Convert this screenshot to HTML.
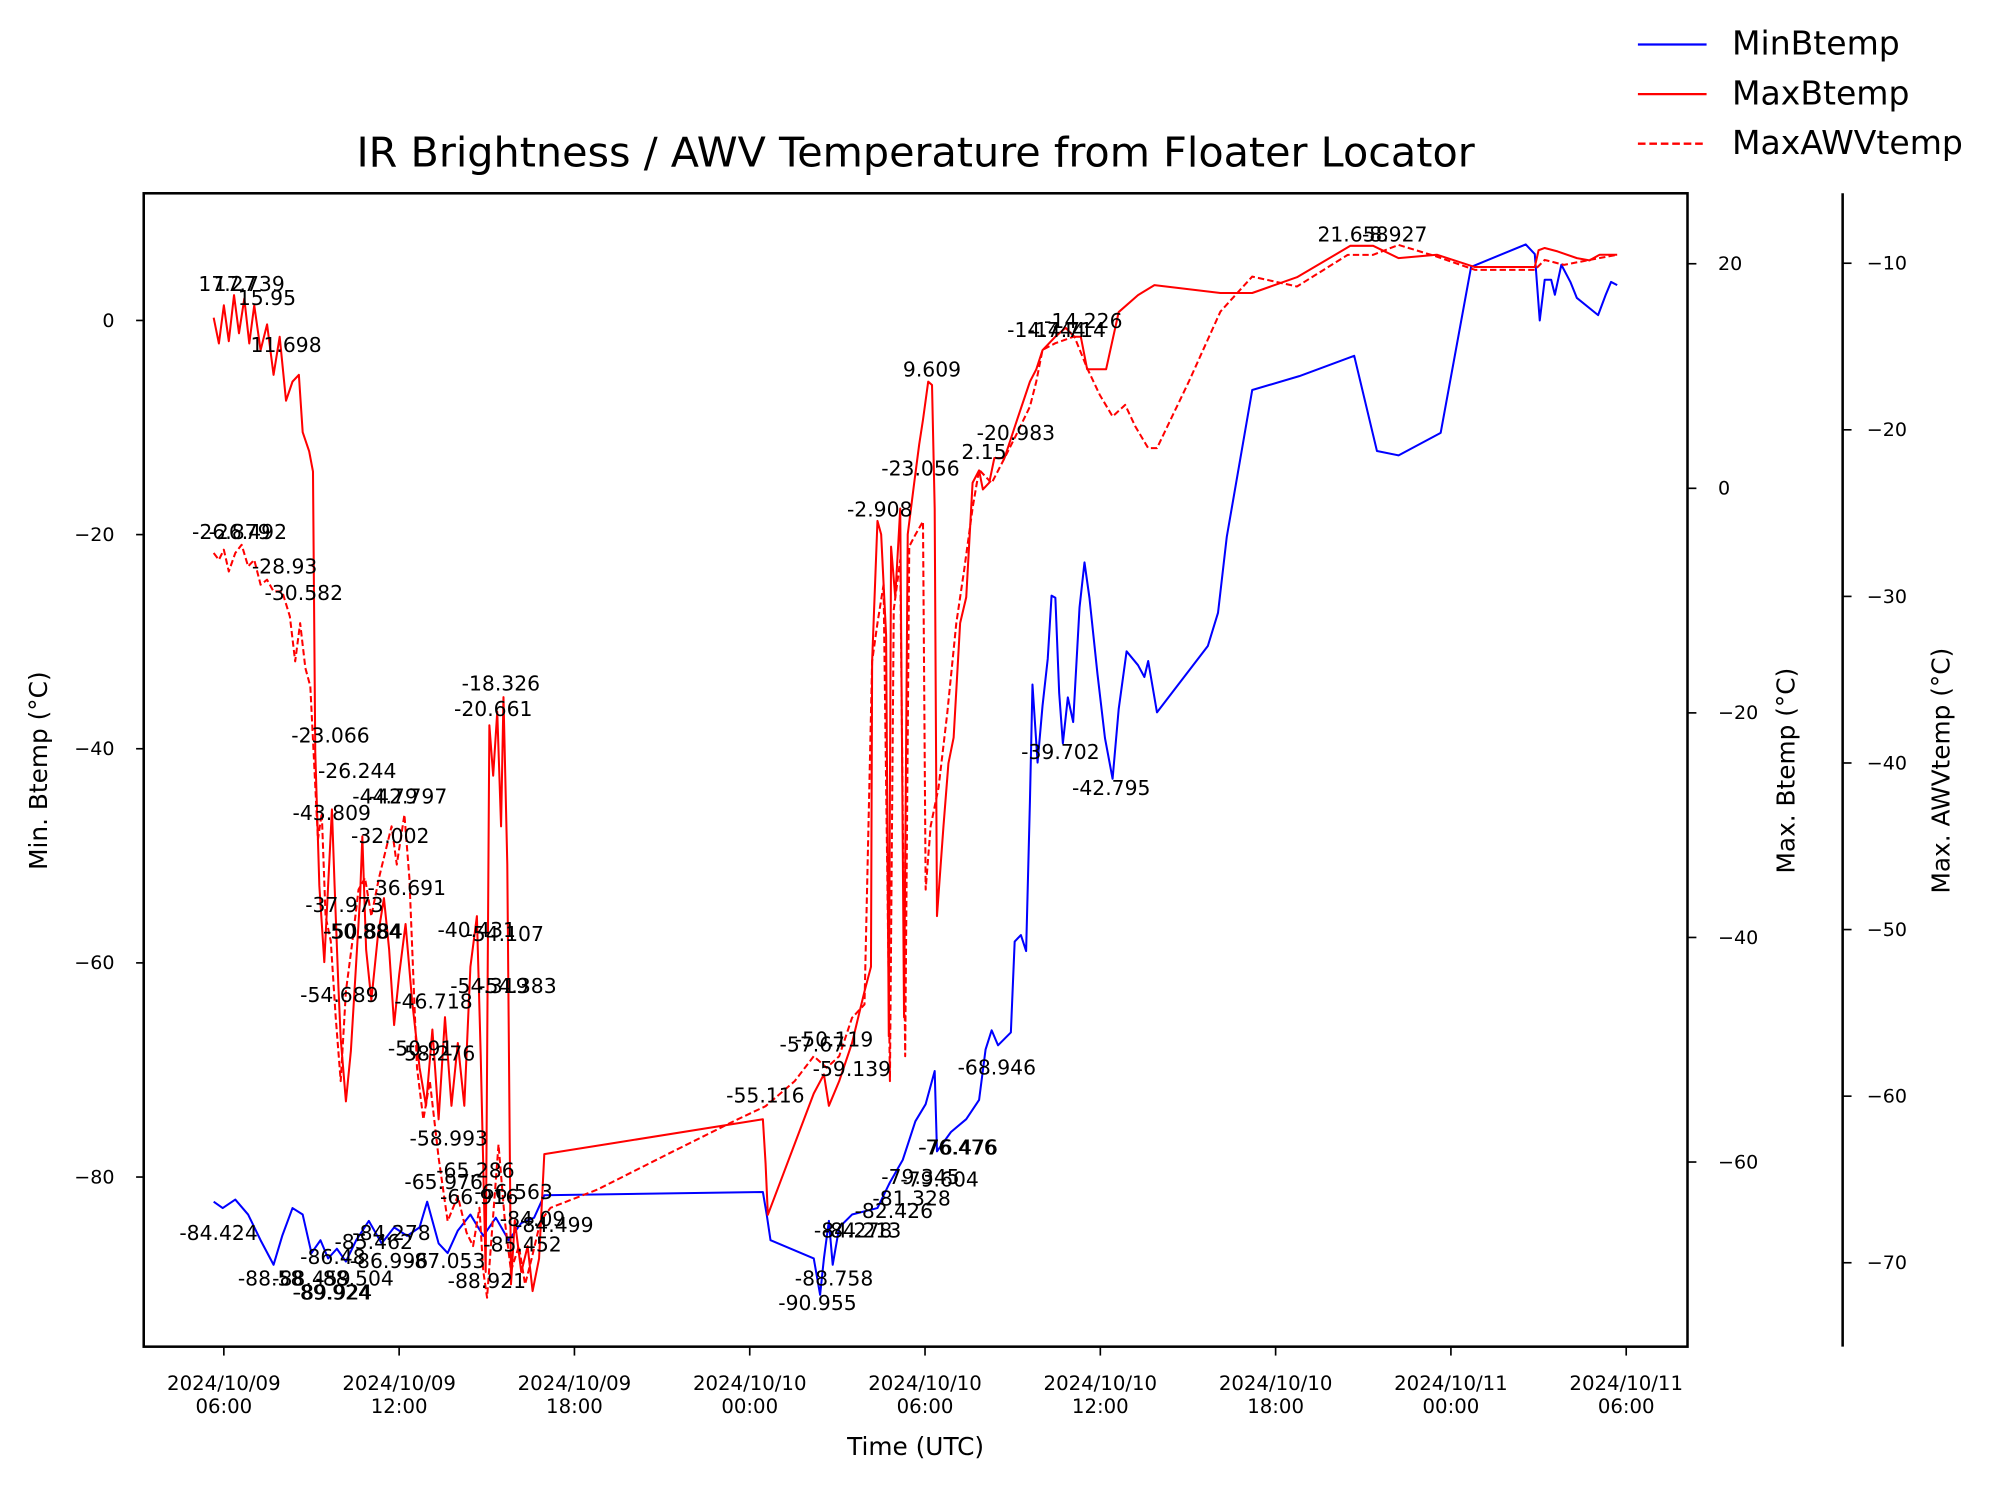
<!DOCTYPE html>
<html><head><meta charset="utf-8">
<style>
html,body{margin:0;padding:0;background:#fff;}
svg{display:block;font-family:"DejaVu Sans","Liberation Sans",sans-serif;}
</style></head>
<body>
<svg id="chart" width="1994" height="1491" viewBox="0 0 1568 1172.5" xmlns="http://www.w3.org/2000/svg">
<rect width="1568" height="1172.5" fill="#fff"/>
<text x="720" y="131" font-size="32.5" text-anchor="middle">IR Brightness / AWV Temperature from Floater Locator</text>
<g id="series"></g>
<g id="annots" font-size="16"></g>
<rect x="113" y="152" width="1214" height="907" fill="none" stroke="#000" stroke-width="2"/>
<line x1="1449" y1="152" x2="1449" y2="1059" stroke="#000" stroke-width="2"/>
<g id="axes" font-size="15"></g>
<text x="720" y="1144" font-size="19.5" text-anchor="middle">Time (UTC)</text>
<text transform="translate(37,606) rotate(-90)" font-size="19.5" text-anchor="middle">Min. Btemp (°C)</text>
<text transform="translate(1411,606) rotate(-90)" font-size="19.5" text-anchor="middle">Max. Btemp (°C)</text>
<text transform="translate(1533,606) rotate(-90)" font-size="19.5" text-anchor="middle">Max. AWVtemp (°C)</text>
<g>
<line x1="1288" y1="35" x2="1342" y2="35" stroke="#0000ff" stroke-width="1.8"/>
<text x="1362" y="43" font-size="26">MinBtemp</text>
<line x1="1288" y1="74" x2="1342" y2="74" stroke="#ff0000" stroke-width="1.8"/>
<text x="1362" y="82" font-size="26">MaxBtemp</text>
<line x1="1288" y1="113" x2="1342" y2="113" stroke="#ff0000" stroke-width="1.8" stroke-dasharray="6,3"/>
<text x="1362" y="121" font-size="26">MaxAWVtemp</text>
</g>
</svg>
<script>
// hours since 2024/10/09 00:00 UTC
const minT = [5.65,5.96,6.39,6.83,7.26,7.70,8.00,8.35,8.70,9.00,9.31,9.57,9.87,10.18,10.53,10.96,11.40,11.83,12.27,12.70,12.96,13.35,13.66,14.01,14.44,14.88,15.31,15.75,16.18,16.62,16.97,24.45,24.58,24.71,26.19,26.41,26.54,26.71,26.84,27.06,27.50,28.37,28.80,29.24,29.67,30.02,30.33,30.41,30.89,31.41,31.85,32.07,32.28,32.50,32.94,33.07,33.28,33.46,33.59,33.68,33.85,34.02,34.20,34.33,34.46,34.59,34.72,34.89,35.07,35.29,35.46,35.63,35.90,36.16,36.42,36.63,36.90,37.29,37.51,37.64,37.94,39.68,40.03,40.33,41.20,42.81,44.69,45.47,46.21,47.65,48.69,50.56,50.87,51.04,51.21,51.43,51.56,51.78,52.09,52.31,53.04,53.30,53.48,53.69];
const minV = [-82.3,-82.9,-82.1,-83.5,-85.9,-88.2,-85.5,-82.9,-83.5,-87.1,-85.9,-87.6,-86.7,-87.9,-85.9,-84.1,-86.2,-84.7,-85.5,-84.7,-82.3,-86.2,-87.1,-85.0,-83.5,-85.5,-83.8,-85.9,-84.3,-83.8,-81.7,-81.4,-83.5,-85.9,-87.6,-91.0,-87.6,-84.1,-88.2,-84.7,-83.5,-82.9,-80.5,-78.4,-74.8,-73.2,-70.1,-77.6,-75.8,-74.6,-72.8,-68.1,-66.3,-67.7,-66.5,-58.0,-57.4,-58.9,-44.9,-34.0,-41.3,-36.0,-31.6,-25.7,-25.9,-34.8,-39.5,-35.2,-37.5,-26.8,-22.6,-25.9,-33.0,-39.0,-42.8,-36.3,-30.9,-32.2,-33.3,-31.8,-36.6,-30.4,-27.3,-20.2,-6.5,-5.2,-3.3,-12.2,-12.6,-10.5,5.0,7.1,6.2,0.0,3.8,3.8,2.4,5.2,3.6,2.1,0.5,2.4,3.6,3.3];
const maxT = [5.65,5.83,6.00,6.17,6.35,6.52,6.70,6.87,7.04,7.26,7.48,7.70,7.91,8.13,8.35,8.57,8.70,8.92,9.05,9.13,9.27,9.44,9.57,9.70,9.79,9.92,10.00,10.18,10.35,10.53,10.66,10.74,10.87,11.05,11.27,11.48,11.66,11.83,12.00,12.22,12.44,12.70,12.92,13.14,13.35,13.57,13.79,14.01,14.23,14.44,14.66,14.79,14.96,15.09,15.22,15.36,15.49,15.57,15.70,15.83,15.96,16.18,16.40,16.57,16.79,16.97,24.45,24.54,24.62,26.19,26.54,26.71,27.06,27.50,27.93,28.15,28.19,28.37,28.50,28.67,28.76,28.84,28.98,29.15,29.28,29.41,29.63,29.80,29.93,30.11,30.24,30.33,30.41,30.63,30.80,30.98,31.20,31.41,31.63,31.85,31.98,32.20,32.37,32.72,33.15,33.59,33.81,34.02,34.46,34.81,35.11,35.33,35.55,35.85,36.20,36.63,37.29,37.85,40.11,41.20,42.73,44.56,45.34,46.21,47.52,48.82,50.87,51.00,51.21,51.65,52.31,52.74,53.09,53.39,53.69];
const maxV = [15.2,12.9,16.3,13.1,17.2,13.8,16.9,12.9,16.3,12.3,14.6,10.1,13.5,7.8,9.5,10.1,5.0,3.3,1.5,-23.5,-35.4,-42.2,-35.4,-28.6,-35.4,-44.4,-49.0,-54.6,-50.1,-42.2,-36.5,-31.0,-41.1,-45.6,-39.9,-36.5,-41.1,-47.8,-43.3,-38.8,-45.6,-51.6,-55.0,-48.2,-56.2,-47.1,-55.0,-49.4,-55.0,-42.6,-38.1,-50.5,-69.8,-21.1,-25.6,-19.9,-30.1,-18.6,-33.5,-70.9,-65.2,-69.8,-67.5,-71.5,-68.6,-59.3,-56.2,-60.1,-64.7,-53.9,-52.2,-55.0,-52.8,-49.4,-44.8,-42.6,-15.4,-2.9,-4.1,-13.1,-48.8,-5.2,-9.7,-1.8,-47.1,-4.1,0.5,3.9,6.1,9.5,9.2,-1.8,-38.1,-30.1,-24.5,-22.2,-12.0,-9.7,0.5,1.6,-0.1,0.5,2.7,2.7,6.1,9.5,10.6,12.3,13.5,14.3,13.5,13.5,10.6,10.6,10.6,15.7,17.2,18.1,17.4,17.4,18.8,21.6,21.6,20.5,20.8,19.7,19.7,21.2,21.4,21.1,20.5,20.3,20.8,20.8,20.8];
const awvT = [5.65,5.83,6.00,6.17,6.39,6.61,6.83,7.04,7.26,7.48,7.70,8.00,8.26,8.44,8.61,8.79,8.96,9.09,9.22,9.35,9.48,9.66,9.83,10.00,10.18,10.40,10.61,10.83,11.05,11.31,11.53,11.74,11.92,12.18,12.35,12.61,12.83,13.05,13.35,13.66,14.01,14.31,14.53,14.75,14.88,15.01,15.14,15.40,15.62,15.83,16.10,16.31,16.53,16.84,17.18,18.79,21.40,23.58,24.54,25.54,26.19,26.63,27.06,27.50,27.93,28.19,28.37,28.58,28.80,28.93,29.15,29.32,29.46,29.67,29.93,30.02,30.19,30.46,30.76,31.07,31.33,31.63,31.85,32.28,32.72,33.15,33.59,33.81,34.02,34.46,35.11,35.55,35.98,36.42,36.85,37.20,37.64,37.94,39.03,40.11,41.20,42.73,44.47,45.34,46.21,47.52,48.82,50.87,51.21,51.87,52.74,53.69];
const awvV = [-27.4,-27.8,-27.2,-28.5,-27.4,-26.9,-28.2,-27.8,-29.3,-29.0,-29.7,-29.7,-31.2,-33.9,-31.6,-34.3,-35.4,-40.0,-44.6,-43.0,-49.2,-50.7,-55.3,-59.1,-53.7,-50.7,-47.6,-46.9,-49.2,-46.9,-45.3,-43.8,-46.1,-43.1,-46.9,-58.3,-61.4,-59.1,-63.7,-67.5,-66.0,-68.2,-69.0,-66.7,-70.5,-72.1,-69.0,-62.9,-67.5,-70.5,-69.0,-71.3,-69.8,-67.5,-66.7,-65.6,-63.3,-61.4,-60.6,-59.1,-57.6,-58.3,-57.6,-55.3,-54.5,-33.9,-31.6,-29.3,-59.1,-30.8,-27.8,-57.6,-27.0,-26.3,-25.5,-47.6,-43.8,-41.5,-37.0,-31.6,-28.5,-24.7,-22.4,-23.2,-21.7,-20.2,-18.6,-17.1,-15.2,-14.8,-14.4,-16.3,-17.9,-19.2,-18.5,-19.8,-21.1,-21.1,-17.1,-12.9,-10.8,-11.4,-9.5,-9.5,-8.9,-9.6,-10.4,-10.4,-9.8,-10.1,-9.8,-9.5];
const xTickHours = [6,12,18,24,30,36,42,48,54];
const xTickDates = ["2024/10/09","2024/10/09","2024/10/09","2024/10/10","2024/10/10","2024/10/10","2024/10/10","2024/10/11","2024/10/11"];
const xTickTimes = ["06:00","12:00","18:00","00:00","06:00","12:00","18:00","00:00","06:00"];
const leftTicks = [0,-20,-40,-60,-80];
const rightTicks = [20,0,-20,-40,-60];
const awvTicks = [-10,-20,-30,-40,-50,-60,-70];
const annotations = [
["17.27",156,229],["17.739",168,229],["15.95",187,240],["11.698",197,277],
["-26.879",151,424],["-26.492",164,424],["-28.93",198,451],["-30.582",208,472],
["-23.066",229,584],["-26.244",250,612],["-44.79",277,632],["-42.797",290,632],["-43.809",230,645],
["-32.002",276,663],["-36.691",289,704],["-37.973",240,717],["-50.884",254,738],["-50.884",255,738],
["-54.689",236,788],["-46.718",310,793],["-50.91",305,830],["-58.276",312,834],["-58.993",322,901],
["-65.286",343,926],["-65.976",318,935],["-66.563",373,943],["-66.916",346,947],["-18.326",363,543],["-20.661",357,563],
["-40.431",344,737],["-54.107",366,740],["-54.319",354,781],["-54.383",376,781],["-88.921",352,1013],
["-84.424",141,975],["-84.278",277,975],["-88.58",187,1011],["-88.459",214,1011],["-88.504",248,1011],["-89.924",230,1022],["-89.924",231,1022],
["-86.996",275,997],["-86.48",236,994],["-85.462",263,982],["-87.053",320,997],["-85.452",380,984],["-84.09",393,964],["-84.499",405,969],
["-55.116",571,867],["-50.119",625,823],["-57.67",613,827],["-59.139",639,846],["-88.758",625,1011],["-90.955",612,1030],
["-84.278",640,973],["-84.213",647,973],["-82.426",672,958],["-81.328",686,948],["-79.345",693,931],["-79.604",708,933],
["-76.476",722,908],["-76.476",723,908],["-68.946",753,845],["-39.702",803,597],["-42.795",843,625],["-23.056",693,374],
["-2.908",666,406],["9.609",710,296],["2.15",756,361],["-20.983",768,346],["-14.226",821,258],["-14.744",792,265],["-14.714",808,265],
["21.658",1036,190],["-8.927",1071,190]];

const NS="http://www.w3.org/2000/svg";
const X0=176, PX_PER_H=137.85/6;
function xs(t){return X0+(t-6)*PX_PER_H;}
function yLeft(v){return 252-v*8.42;}
function yRight(v){return 384-v*8.83;}
function yAwv(v){return 207-(v+10)*13.1;}
function mk(tag,attrs,parent){const e=document.createElementNS(NS,tag);for(const k in attrs)e.setAttribute(k,attrs[k]);parent.appendChild(e);return e;}
const series=document.getElementById('series');
function drawLine(ts,vs,yf,color,dash,name){
  let d='';
  for(let i=0;i<ts.length;i++){d+=(i?'L':'M')+xs(ts[i]).toFixed(1)+','+yf(vs[i]).toFixed(1);}
  const p=mk('path',{d:d,fill:'none',stroke:color,'stroke-width':'1.6','stroke-linejoin':'round'},series);
  if(dash)p.setAttribute('stroke-dasharray',dash);
  
  
}
drawLine(minT,minV,yLeft,'#0000ff',null,'minbtemp-line');
drawLine(maxT,maxV,yRight,'#ff0000',null,'maxbtemp-line');
drawLine(awvT,awvV,yAwv,'#ff0000','5,2.5','maxawvtemp-line');

const an=document.getElementById('annots');
annotations.forEach(a=>{
  const t=mk('text',{x:a[1],y:a[2]},an);t.textContent=a[0];
  
  
});

const ax=document.getElementById('axes');
const minus=s=>String(s).replace('-','\u2212');
xTickHours.forEach((h,i)=>{
  const x=xs(h);
  const l=mk('line',{x1:x,y1:1059,x2:x,y2:1066,stroke:'#000','stroke-width':1.3},ax);
  
  
  const t=mk('text',{x:x,y:1093,'text-anchor':'middle','font-size':15.5},ax);
  
  
  mk('tspan',{x:x,dy:0},t).textContent=xTickDates[i];
  mk('tspan',{x:x,dy:18},t).textContent=xTickTimes[i];
});
leftTicks.forEach(v=>{
  const y=yLeft(v);
  const l=mk('line',{x1:107,y1:y,x2:113,y2:y,stroke:'#000','stroke-width':1.3},ax);
  
  
  const t=mk('text',{x:90,y:y+5,'text-anchor':'end'},ax);t.textContent=minus(v);
  
  
});
rightTicks.forEach(v=>{
  const y=yRight(v);
  const l=mk('line',{x1:1327,y1:y,x2:1334,y2:y,stroke:'#000','stroke-width':1.3},ax);
  
  
  const t=mk('text',{x:1351,y:y+5},ax);t.textContent=minus(v);
  
  
});
awvTicks.forEach(v=>{
  const y=yAwv(v);
  const l=mk('line',{x1:1449,y1:y,x2:1456,y2:y,stroke:'#000','stroke-width':1.3},ax);
  
  
  const t=mk('text',{x:1468,y:y+5},ax);t.textContent=minus(v);
  
  
});
</script>
</body></html>
